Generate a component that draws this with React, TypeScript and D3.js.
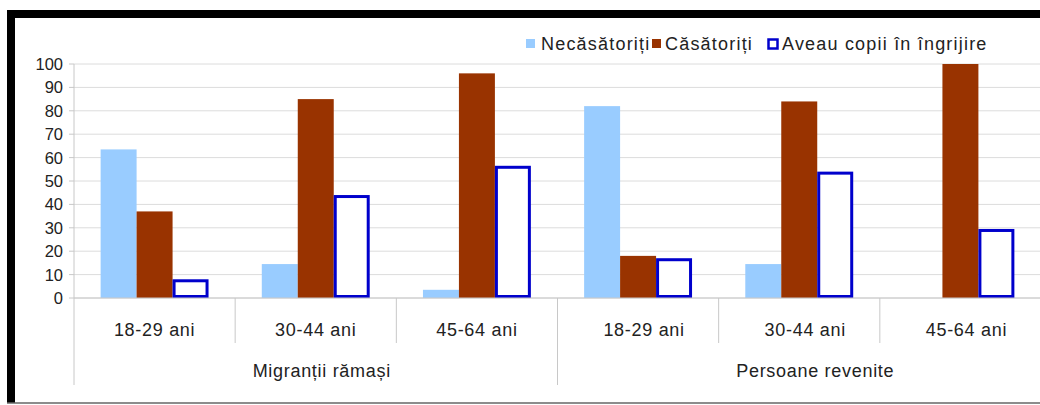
import React from "react";
import * as d3 from "d3";

// Age bands within each population group
const ageBands = ["18-29 ani", "30-44 ani", "45-64 ani"];
const populationGroups = ["Migranții rămași", "Persoane revenite"];

// Percentages per category (group × age band, in order)
const necasatoriti = [63.5, 14.5, 3.5, 82, 14.5, 0];
const casatoriti = [37, 85, 96, 18, 84, 100];
const copiiInIngrijire = [8, 44, 56.5, 17, 54, 29.5];

const seriesNames = ["Necăsătoriți", "Căsătoriți", "Aveau copii în îngrijire"];
const yTicks = [0, 10, 20, 30, 40, 50, 60, 70, 80, 90, 100];

const W = 1040;
const H = 405;
const FONT = "'Liberation Sans', Arial, sans-serif";

export default function App() {
  const left = 74;
  const right = 1041;
  const top = 64;
  const bottom = 298;

  const categories = d3.range(6).map(String);
  const x0 = d3.scaleBand<string>().domain(categories).range([left, right]).padding(0);
  const x1 = d3
    .scaleBand<string>()
    .domain(seriesNames)
    .range([0, x0.bandwidth()])
    .paddingInner(0)
    .paddingOuter(0.74);
  const y = d3.scaleLinear().domain([0, 100]).range([bottom, top]);

  const seriesValues = [necasatoriti, casatoriti, copiiInIngrijire];
  const colors = ["#99ccff", "#993300", "#0000cc"];

  const groupWidth = (right - left) / 2;

  return (
    <svg
      width={W}
      height={H}
      style={{ position: "fixed", left: 0, top: 0, background: "#fff" }}
      fontFamily={FONT}
    >
      {/* frame */}
      <rect x={7} y={10} width={W - 7} height={8} fill="#000" />
      <rect x={7} y={10} width={8} height={H - 12} fill="#000" />
      <line x1={7} x2={W} y1={403} y2={403} stroke="#666" strokeWidth={1.5} />

      {/* gridlines */}
      {yTicks.map((t) => (
        <line
          key={"g" + t}
          x1={left}
          x2={W}
          y1={y(t)}
          y2={y(t)}
          stroke="#dcdcdc"
          strokeWidth={1}
        />
      ))}

      {/* y axis */}
      <line x1={left} x2={left} y1={top} y2={bottom} stroke="#c8c8c8" />
      {yTicks.map((t) => (
        <g key={"t" + t}>
          <line x1={left - 5} x2={left} y1={y(t)} y2={y(t)} stroke="#c8c8c8" />
          <text
            x={63}
            y={y(t)}
            dy="0.36em"
            textAnchor="end"
            fontSize={16.5}
            fill="#222"
          >
            {t}
          </text>
        </g>
      ))}

      {/* bars */}
      {seriesValues.map((vals, si) =>
        vals.map((v, ci) => {
          const bx = (x0(String(ci)) as number) + (x1(seriesNames[si]) as number);
          const bw = x1.bandwidth();
          if (si === 2) {
            return (
              <rect
                key={si + "-" + ci}
                x={bx + 1.5}
                y={y(v) + 1.5}
                width={bw - 3}
                height={Math.max(0, bottom - y(v) - 3)}
                fill="#fff"
                stroke={colors[si]}
                strokeWidth={3}
              />
            );
          }
          return (
            <rect
              key={si + "-" + ci}
              x={bx}
              y={y(v)}
              width={bw}
              height={bottom - y(v)}
              fill={colors[si]}
            />
          );
        })
      )}

      {/* category axis */}
      <line x1={left} x2={W} y1={bottom} y2={bottom} stroke="#c8c8c8" />
      {categories.map((c, i) => {
        const cx = x0(c) as number;
        const isGroupStart = i % 3 === 0;
        return (
          <g key={"c" + c}>
            {i > 0 && (
              <line
                x1={cx}
                x2={cx}
                y1={bottom}
                y2={isGroupStart ? 385 : 343}
                stroke="#c8c8c8"
              />
            )}
            <text
              x={cx + x0.bandwidth() / 2 + (i >= 3 ? 6 : 0)}
              y={336}
              textAnchor="middle"
              fontSize={18}
              letterSpacing={0.7}
              fill="#222"
            >
              {ageBands[i % 3]}
            </text>
          </g>
        );
      })}
      <line x1={left} x2={left} y1={bottom} y2={385} stroke="#c8c8c8" />
      {populationGroups.map((g, gi) => (
        <text
          key={g}
          x={left + groupWidth * gi + groupWidth / 2 + (gi === 0 ? 6 : 16)}
          y={377}
          textAnchor="middle"
          fontSize={18}
          letterSpacing={0.7}
          fill="#222"
        >
          {g}
        </text>
      ))}

      {/* legend */}
      <g fontSize={18} fill="#222" letterSpacing={1.2}>
        <rect x={526} y={39} width={9} height={9} fill={colors[0]} />
        <text x={541} y={50}>{seriesNames[0]}</text>
        <rect x={652} y={39} width={9} height={9} fill={colors[1]} />
        <text x={665} y={50}>{seriesNames[1]}</text>
        <rect x={768.5} y={39.5} width={9} height={9} fill="#fff" stroke={colors[2]} strokeWidth={2.5} />
        <text x={782} y={50}>{seriesNames[2]}</text>
      </g>
    </svg>
  );
}
